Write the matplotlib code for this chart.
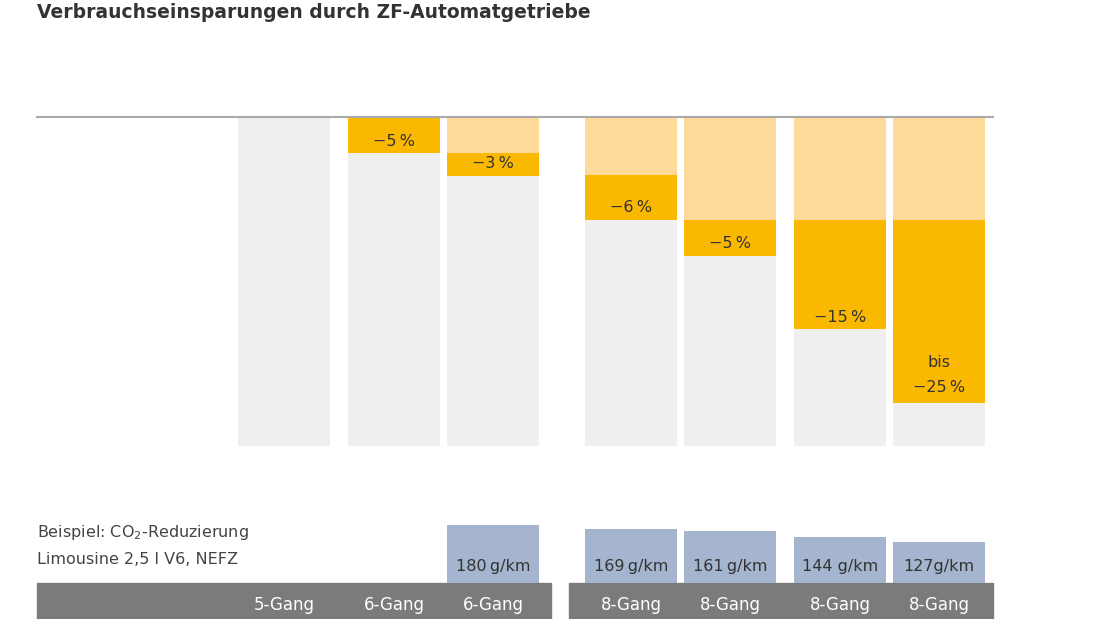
import matplotlib
matplotlib.use("Agg")
import matplotlib.pyplot as plt

# data (units: chart scale; top of bars = 0, bottom = 329)
gears = ["5-Gang", "6-Gang", "6-Gang", "8-Gang", "8-Gang", "8-Gang", "8-Gang"]
light_seg = [0, 0, 36, 58, 103, 103, 103]
orange_seg = [0, 36, 23, 45, 36, 109, 183]
saving_labels = ["", "\u22125\u2009%", "\u22123\u2009%", "\u22126\u2009%", "\u22125\u2009%", "\u221215\u2009%", "bis\n\u221225\u2009%"]
co2 = [None, None, 180, 169, 161, 144, 127]
co2_labels = ["", "", "180\u2009g/km", "169\u2009g/km", "161\u2009g/km", "144 g/km", "127g/km"]
total = 329

lefts = [238, 348, 447, 585, 684, 794, 893]
W = 92
TOP = 117

fig = plt.figure(figsize=(11, 6.19), dpi=100)
ax = fig.add_axes([0, 0, 1, 1])
ax.set_xlim(0, 1100); ax.set_ylim(619, 0); ax.axis("off")

gray, orange, light, blue, band = "#efefef", "#fbb800", "#fdd99a", "#a5b5cf", "#7b7b7b"
for i, x in enumerate(lefts):
    ax.bar(x, total, width=W, bottom=TOP, align="edge", color=gray, zorder=1)
    if light_seg[i]:
        ax.bar(x, light_seg[i], width=W, bottom=TOP, align="edge", color=light, zorder=2)
    if orange_seg[i]:
        b = TOP + light_seg[i]
        ax.bar(x, orange_seg[i], width=W, bottom=b, align="edge", color=orange, zorder=2)
        ty = b + orange_seg[i] - 12 if "\n" not in saving_labels[i] else b + orange_seg[i] - 28
        ax.text(x + W / 2, ty, saving_labels[i], ha="center", va="center", fontsize=11.5,
                color="#333333", linespacing=1.9, zorder=3)
    if co2[i]:
        h = co2[i] * 0.322
        ax.bar(x, h, width=W, bottom=583 - h, align="edge", color=blue, zorder=2)
        ax.text(x + W / 2, 566, co2_labels[i], ha="center", va="center", fontsize=11.5, color="#333333", zorder=3)
    ax.text(x + W / 2, 605, gears[i], ha="center", va="center", fontsize=12, color="white", zorder=3)

ax.plot([37, 993], [TOP, TOP], color="#aaaaaa", lw=1.5, zorder=4)
ax.add_patch(plt.Rectangle((37, 583), 514, 36, color=band, zorder=1))
ax.add_patch(plt.Rectangle((569, 583), 424, 36, color=band, zorder=1))

ax.text(37, 12, "Verbrauchseinsparungen durch ZF-Automatgetriebe", fontsize=13.5,
        fontweight="bold", color="#333333", va="center", ha="left")
ax.text(37, 532, "Beispiel: CO$_2$-Reduzierung", fontsize=11.5, color="#444444", va="center")
ax.text(37, 560, "Limousine 2,5 l V6, NEFZ", fontsize=11.5, color="#444444", va="center")

fig.savefig("out.png", dpi=100)
